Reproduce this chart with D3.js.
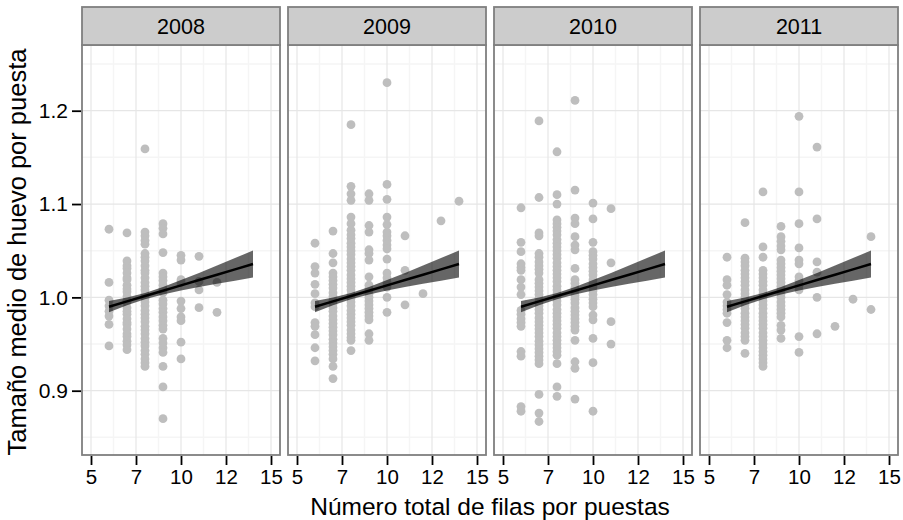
<!DOCTYPE html>
<html>
<head>
<meta charset="utf-8">
<script src="https://cdn.jsdelivr.net/npm/d3@7"></script>
<style>
body { margin: 0; background: #fff; }
svg text { font-family: "Liberation Sans", Arial, sans-serif; fill: #000; }
</style>
</head>
<body>
<div id="chart"></div>
<script>
// facet names
var years = ["2008", "2009", "2010", "2011"];

// points: [x, [y values]] per column, one array per year
var pts2008 = [
    [6, [1.073, 1.016, 0.997, 0.991, 0.985, 0.980, 0.971, 0.948]],
    [7, [1.069, 1.039, 1.034, 1.031, 1.026, 1.021, 1.019, 1.013, 1.009, 1.006, 1.001, 0.997, 0.995, 0.989, 0.985, 0.982, 0.977, 0.973, 0.971, 0.966, 0.961, 0.958, 0.953, 0.949, 0.944]],
    [8, [1.159, 1.070, 1.066, 1.061, 1.057, 1.047, 1.043, 1.039, 1.034, 1.029, 1.026, 1.021, 1.016, 1.012, 1.008, 1.003, 0.999, 0.995, 0.991, 0.986, 0.982, 0.978, 0.974, 0.969, 0.965, 0.961, 0.956, 0.952, 0.948, 0.943, 0.939, 0.934, 0.930, 0.926]],
    [9, [1.079, 1.074, 1.068, 1.048, 1.026, 1.022, 1.018, 1.013, 1.009, 1.005, 0.997, 0.993, 0.988, 0.984, 0.979, 0.975, 0.970, 0.966, 0.956, 0.951, 0.946, 0.941, 0.926, 0.904, 0.870]],
    [10, [1.045, 1.040, 1.019, 1.016, 0.996, 0.988, 0.979, 0.975, 0.952, 0.934]],
    [11, [1.044, 1.017, 1.008, 0.989]],
    [12, [1.016, 0.984]]
];
var pts2009 = [
    [6, [1.058, 1.033, 1.026, 1.014, 1.004, 0.994, 0.990, 0.973, 0.969, 0.960, 0.946, 0.932]],
    [7, [1.071, 1.047, 1.037, 1.026, 1.022, 1.018, 1.014, 1.010, 1.005, 1.001, 0.997, 0.993, 0.989, 0.985, 0.980, 0.976, 0.972, 0.968, 0.964, 0.960, 0.955, 0.951, 0.947, 0.943, 0.939, 0.934, 0.926, 0.913]],
    [8, [1.185, 1.119, 1.111, 1.104, 1.086, 1.079, 1.072, 1.067, 1.063, 1.058, 1.054, 1.050, 1.046, 1.041, 1.037, 1.033, 1.029, 1.024, 1.020, 1.016, 1.012, 1.008, 1.003, 0.999, 0.995, 0.991, 0.986, 0.982, 0.978, 0.974, 0.970, 0.965, 0.961, 0.957, 0.954, 0.943]],
    [9, [1.111, 1.104, 1.077, 1.070, 1.051, 1.047, 1.040, 1.022, 1.013, 1.009, 1.004, 1.000, 0.996, 0.992, 0.988, 0.984, 0.980, 0.976, 0.961, 0.954]],
    [10, [1.230, 1.121, 1.105, 1.086, 1.078, 1.070, 1.066, 1.061, 1.056, 1.052, 1.041, 1.026, 1.021, 1.016, 1.011, 1.000, 0.984]],
    [11, [1.066, 1.029, 0.992]],
    [12, [1.004]],
    [13, [1.082]],
    [14, [1.103]]
];
var pts2010 = [
    [6, [1.096, 1.059, 1.049, 1.036, 1.032, 1.029, 1.019, 1.011, 1.003, 0.986, 0.982, 0.977, 0.973, 0.969, 0.942, 0.937, 0.883, 0.878]],
    [7, [1.189, 1.107, 1.069, 1.066, 1.047, 1.043, 1.038, 1.034, 1.030, 1.026, 1.019, 1.015, 1.011, 1.007, 1.003, 0.999, 0.995, 0.991, 0.987, 0.983, 0.978, 0.974, 0.970, 0.966, 0.962, 0.958, 0.953, 0.949, 0.945, 0.941, 0.937, 0.933, 0.929, 0.896, 0.876, 0.867]],
    [8, [1.156, 1.110, 1.100, 1.083, 1.079, 1.075, 1.071, 1.067, 1.062, 1.058, 1.054, 1.050, 1.046, 1.042, 1.037, 1.033, 1.029, 1.025, 1.021, 1.017, 1.012, 1.008, 1.004, 1.000, 0.996, 0.992, 0.987, 0.983, 0.979, 0.975, 0.971, 0.967, 0.962, 0.958, 0.954, 0.950, 0.946, 0.942, 0.938, 0.929, 0.904, 0.894]],
    [9, [1.211, 1.115, 1.085, 1.079, 1.065, 1.056, 1.051, 1.031, 1.019, 1.015, 1.010, 1.006, 1.002, 0.998, 0.994, 0.989, 0.985, 0.981, 0.977, 0.973, 0.969, 0.965, 0.954, 0.931, 0.924, 0.891]],
    [10, [1.101, 1.084, 1.059, 1.049, 1.045, 1.041, 1.036, 1.032, 1.028, 1.024, 1.019, 1.015, 1.011, 1.007, 1.003, 0.998, 0.994, 0.990, 0.981, 0.976, 0.956, 0.930, 0.878]],
    [11, [1.095, 1.037, 0.974, 0.950]]
];
var pts2011 = [
    [6, [1.043, 1.019, 1.013, 1.003, 0.995, 0.991, 0.987, 0.983, 0.973, 0.954, 0.946]],
    [7, [1.080, 1.042, 1.038, 1.034, 1.029, 1.025, 1.021, 1.017, 1.013, 1.008, 1.004, 1.000, 0.996, 0.992, 0.988, 0.983, 0.979, 0.975, 0.971, 0.967, 0.962, 0.958, 0.954, 0.940]],
    [8, [1.113, 1.054, 1.043, 1.029, 1.025, 1.021, 1.017, 1.013, 1.008, 1.004, 1.000, 0.996, 0.992, 0.988, 0.983, 0.979, 0.975, 0.971, 0.967, 0.962, 0.958, 0.954, 0.950, 0.946, 0.942, 0.938, 0.934, 0.930, 0.926]],
    [9, [1.076, 1.065, 1.060, 1.055, 1.051, 1.040, 1.036, 1.032, 1.028, 1.024, 1.020, 1.016, 1.012, 1.008, 1.004, 1.000, 0.995, 0.991, 0.987, 0.983, 0.979, 0.970, 0.965, 0.956]],
    [10, [1.194, 1.113, 1.079, 1.053, 1.040, 1.036, 1.022, 1.018, 1.013, 1.008, 0.958, 0.941]],
    [11, [1.161, 1.084, 1.038, 1.027, 1.000, 0.961]],
    [12, [0.969]],
    [13, [0.998]],
    [14, [1.065, 0.987]]
];
var pointsByYear = [pts2008, pts2009, pts2010, pts2011];

// fitted line and its band (same in every panel)
var fitX  = [6, 7, 8, 9, 10, 11, 12, 13, 14];
var fitY  = [0.9900, 0.9957, 1.0014, 1.0071, 1.0129, 1.0186, 1.0243, 1.0300, 1.0357];
var fitLo = [0.9840, 0.9915, 0.9980, 1.0031, 1.0073, 1.0110, 1.0145, 1.0179, 1.0212];
var fitHi = [0.9960, 0.9999, 1.0048, 1.0111, 1.0185, 1.0262, 1.0341, 1.0421, 1.0502];

// ticks
var xTicks = [5, 7.5, 10, 12.5, 15];
var xTickLabels = ["5", "7", "10", "12", "15"];
var xMinor = [6.25, 8.75, 11.25, 13.75];
var yTicks = [0.9, 1.0, 1.1, 1.2];
var yMinor = [0.85, 0.95, 1.05, 1.15, 1.25];

var W = 903, H = 520,
    panelTop = 45, panelH = 410,
    panelLeft = 82, panelW = 198, gap = 8,
    stripH = 38;

var svg = d3.select("#chart").append("svg")
    .attr("width", W)
    .attr("height", H);

var x = d3.scaleLinear().domain([4.5, 15.5]).range([0, panelW]);
var y = d3.scaleLinear().domain([0.8311, 1.2704]).range([panelH, 0]);

var area = d3.area()
    .x(function (d) { return x(d.x); })
    .y0(function (d) { return y(d.lo); })
    .y1(function (d) { return y(d.hi); });
var line = d3.line()
    .x(function (d) { return x(d.x); })
    .y(function (d) { return y(d.y); });
var fitData = fitX.map(function (v, i) {
    return { x: v, y: fitY[i], lo: fitLo[i], hi: fitHi[i] };
});

years.forEach(function (yr, p) {
    var left = panelLeft + p * (panelW + gap);
    var g = svg.append("g").attr("transform", "translate(" + left + "," + panelTop + ")");

    // minor grid
    g.selectAll(".xminor").data(xMinor).enter().append("line")
        .attr("x1", x).attr("x2", x).attr("y1", 0).attr("y2", panelH)
        .attr("stroke", "#f5f5f5").attr("stroke-width", 1.5);
    g.selectAll(".yminor").data(yMinor).enter().append("line")
        .attr("x1", 0).attr("x2", panelW).attr("y1", y).attr("y2", y)
        .attr("stroke", "#f5f5f5").attr("stroke-width", 1.5);
    // major grid
    g.selectAll(".xmajor").data(xTicks).enter().append("line")
        .attr("x1", x).attr("x2", x).attr("y1", 0).attr("y2", panelH)
        .attr("stroke", "#e6e6e6").attr("stroke-width", 1.2);
    g.selectAll(".ymajor").data(yTicks).enter().append("line")
        .attr("x1", 0).attr("x2", panelW).attr("y1", y).attr("y2", y)
        .attr("stroke", "#e6e6e6").attr("stroke-width", 1.2);

    // points
    var pts = [];
    pointsByYear[p].forEach(function (col) {
        col[1].forEach(function (v) { pts.push({ x: col[0], y: v }); });
    });
    g.selectAll(".pt").data(pts).enter().append("circle")
        .attr("cx", function (d) { return x(d.x); })
        .attr("cy", function (d) { return y(d.y); })
        .attr("r", 4.4)
        .attr("fill", "#bebebe");

    // band and line
    g.append("path").datum(fitData).attr("d", area)
        .attr("fill", "#000").attr("fill-opacity", 0.6);
    g.append("path").datum(fitData).attr("d", line)
        .attr("fill", "none").attr("stroke", "#000").attr("stroke-width", 2.5);

    // border
    g.append("rect").attr("x", 0).attr("y", 0)
        .attr("width", panelW).attr("height", panelH)
        .attr("fill", "none").attr("stroke", "#7f7f7f").attr("stroke-width", 1.8);

    // strip
    svg.append("rect")
        .attr("x", left).attr("y", panelTop - stripH)
        .attr("width", panelW).attr("height", stripH)
        .attr("fill", "#cccccc").attr("stroke", "#7f7f7f").attr("stroke-width", 1.8);
    svg.append("text")
        .attr("x", left + panelW / 2).attr("y", panelTop - stripH / 2)
        .attr("dy", "0.36em")
        .attr("text-anchor", "middle")
        .style("font-size", "21.5px")
        .text(yr);

    // x axis
    var xa = svg.append("g")
        .attr("transform", "translate(" + left + "," + (panelTop + panelH + 1) + ")")
        .call(d3.axisBottom(x).tickValues(xTicks).tickSize(9).tickPadding(4)
            .tickFormat(function (d, i) { return xTickLabels[i]; }));
    xa.select(".domain").remove();
    xa.selectAll(".tick line").attr("stroke", "#000").attr("stroke-width", 1.8);
    xa.selectAll(".tick text").style("font-size", "20.5px");
});

// y axis
var ya = svg.append("g")
    .attr("transform", "translate(" + (panelLeft - 1) + "," + panelTop + ")")
    .call(d3.axisLeft(y).tickValues(yTicks).tickSize(9).tickPadding(4)
        .tickFormat(d3.format(".1f")));
ya.select(".domain").remove();
ya.selectAll(".tick line").attr("stroke", "#000").attr("stroke-width", 1.8);
ya.selectAll(".tick text").style("font-size", "21px");

// titles
svg.append("text")
    .attr("x", panelLeft + (4 * panelW + 3 * gap) / 2).attr("y", 515)
    .attr("text-anchor", "middle")
    .style("font-size", "24.5px")
    .text("Número total de filas por puestas");
svg.append("text")
    .attr("transform", "translate(26," + (panelTop + panelH / 2 + 2) + ") rotate(-90)")
    .attr("text-anchor", "middle")
    .style("font-size", "25.5px")
    .text("Tamaño medio de huevo por puesta");
</script>
</body>
</html>
